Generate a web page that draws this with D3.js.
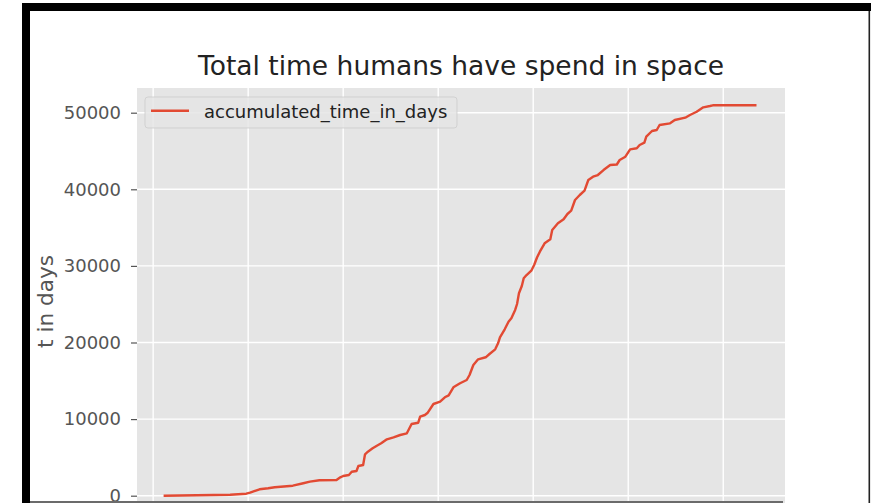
<!DOCTYPE html>
<html>
<head>
<meta charset="utf-8">
<script src="https://cdn.jsdelivr.net/npm/d3@7"></script>
<style>
    body { margin: 0; background: #fff; }
    svg { display: block; font-family: "DejaVu Sans", sans-serif; }
</style>
</head>
<body>
<svg id="chart"></svg>
<script>
// accumulated time humans spent in space
var years = [1961.1, 1968.1, 1969.8, 1970.2, 1971.2, 1972.1, 1972.8, 1974.7, 1975.8, 1976.5,
    1977.5, 1979.3, 1979.7, 1980.0, 1980.6, 1980.9, 1981.4, 1981.6, 1982.1, 1982.3,
    1982.6, 1983.1, 1983.5, 1984.0, 1984.6, 1985.3, 1986.0, 1986.7, 1987.2, 1987.9,
    1988.1, 1988.6, 1988.9, 1989.5, 1990.2, 1990.7, 1991.1, 1991.6, 1992.3, 1993.0,
    1993.3, 1993.7, 1994.2, 1995.0, 1995.4, 1996.0, 1996.3, 1996.5, 1997.0, 1997.4,
    1997.7, 1998.1, 1998.3, 1998.5, 1998.8, 1999.0, 1999.3, 1999.8, 2000.1, 2000.4,
    2000.7, 2001.2, 2001.8, 2002.0, 2002.6, 2003.2, 2003.6, 2004.0, 2004.4, 2004.9,
    2005.4, 2005.8, 2006.3, 2006.8, 2007.4, 2008.1, 2008.8, 2009.1, 2009.7, 2010.2,
    2010.9, 2011.2, 2011.7, 2011.9, 2012.5, 2013.0, 2013.3, 2014.4, 2014.9, 2016.0,
    2016.5, 2017.2, 2017.9, 2018.6, 2018.9, 2023.5];
var days = [0, 130, 260, 390, 835, 965, 1095, 1305, 1620, 1830,
    2010, 2050, 2400, 2570, 2700, 3130, 3225, 3880, 4010, 5405,
    5745, 6190, 6490, 6840, 7365, 7625, 7925, 8145, 9360, 9530,
    10315, 10535, 10835, 11970, 12270, 12845, 13105, 14150, 14675, 15105,
    15755, 17060, 17805, 18070, 18500, 19110, 19895, 20680, 21725, 22715,
    23160, 24245, 25025, 26425, 27375, 28380, 28810, 29375, 30120, 31100,
    31855, 32950, 33475, 34685, 35560, 36085, 36775, 37205, 38605, 39255,
    39815, 41215, 41645, 41865, 42515, 43170, 43240, 43825, 44255, 45220,
    45355, 45785, 46085, 46870, 47610, 47745, 48395, 48615, 49045, 49350,
    49700, 50130, 50705, 50875, 50965, 50965];

var yTicks = [0, 10000, 20000, 30000, 40000, 50000];
var xTicks = [1960, 1970, 1980, 1990, 2000, 2010, 2020];
var seriesName = "accumulated_time_in_days";
var title = "Total time humans have spend in space";
var yLabel = "t in days";

var width = 871, height = 503;
var plot = {left: 137, right: 785, top: 88, bottom: 515};
var lineColor = "#E24A33";

var svg = d3.select("#chart").attr("width", width).attr("height", height);

var data = years.map(function (d, i) { return {year: d, days: days[i]}; });

var xScale = d3.scaleLinear()
    .domain([1958.3, 2026.5])
    .range([plot.left, plot.right]);

var yScale = d3.scaleLinear()
    .domain([-2520, 53225])
    .range([plot.bottom, plot.top]);

// grey panel (ggplot style)
svg.append("rect")
    .attr("x", plot.left).attr("y", plot.top)
    .attr("width", plot.right - plot.left)
    .attr("height", plot.bottom - plot.top)
    .attr("fill", "#E5E5E5");

// grid
var grid = svg.append("g");
grid.selectAll(".ygrid").data(yTicks).enter().append("line")
    .attr("x1", plot.left).attr("x2", plot.right)
    .attr("y1", function (d) { return yScale(d); })
    .attr("y2", function (d) { return yScale(d); })
    .attr("stroke", "#fff").attr("stroke-width", 1.4);
grid.selectAll(".xgrid").data(xTicks).enter().append("line")
    .attr("y1", plot.top).attr("y2", plot.bottom)
    .attr("x1", function (d) { return xScale(d); })
    .attr("x2", function (d) { return xScale(d); })
    .attr("stroke", "#fff").attr("stroke-width", 1.4);

// y axis (x axis labels lie below the visible part of the figure)
var yAxis = d3.axisLeft(yScale).tickValues(yTicks).tickSize(6).tickPadding(10).tickFormat(d3.format("d"));
var gy = svg.append("g")
    .attr("transform", "translate(" + plot.left + ",0)")
    .call(yAxis);
gy.select(".domain").remove();
gy.selectAll("line").attr("stroke", "#555").attr("stroke-width", 1.2);
gy.selectAll("text").attr("fill", "#555").style("font-size", "18px").attr("font-family", "DejaVu Sans");

// the line
var line = d3.line()
    .x(function (d) { return xScale(d.year); })
    .y(function (d) { return yScale(d.days); });

svg.append("path")
    .datum(data)
    .attr("d", line)
    .attr("fill", "none")
    .attr("stroke", lineColor)
    .attr("stroke-width", 2.4)
    .attr("stroke-linejoin", "round");

// title and label
svg.append("text")
    .attr("x", (plot.left + plot.right) / 2)
    .attr("y", 75)
    .attr("text-anchor", "middle")
    .style("font-size", "26.5px")
    .attr("fill", "#222")
    .text(title);

svg.append("text")
    .attr("transform", "translate(53," + ((plot.top + plot.bottom) / 2) + ") rotate(-90)")
    .attr("text-anchor", "middle")
    .style("font-size", "21.6px")
    .attr("fill", "#555")
    .text(yLabel);

// legend
var legend = svg.append("g").attr("transform", "translate(145,97)");
legend.append("rect")
    .attr("width", 312).attr("height", 31).attr("rx", 3)
    .attr("fill", "#E5E5E5").attr("fill-opacity", 0.85)
    .attr("stroke", "#ccc").attr("stroke-opacity", 0.8);
legend.append("line")
    .attr("x1", 6).attr("x2", 44).attr("y1", 13.7).attr("y2", 13.7)
    .attr("stroke", lineColor).attr("stroke-width", 2.4);
legend.append("text")
    .attr("x", 59).attr("y", 20.7)
    .style("font-size", "18px")
    .attr("fill", "#222")
    .text(seriesName);

// screenshot frame around the figure
svg.append("rect").attr("x", 22).attr("y", 3).attr("width", 8).attr("height", 500).attr("fill", "#000");
svg.append("rect").attr("x", 22).attr("y", 3).attr("width", 849).attr("height", 8).attr("fill", "#000");
svg.append("rect").attr("x", 868.5).attr("y", 11).attr("width", 1.6).attr("height", 492).attr("fill", "#222");
svg.append("rect").attr("x", 30).attr("y", 501).attr("width", 753).attr("height", 2).attr("fill", "#6b6b6b");
</script>
</body>
</html>
